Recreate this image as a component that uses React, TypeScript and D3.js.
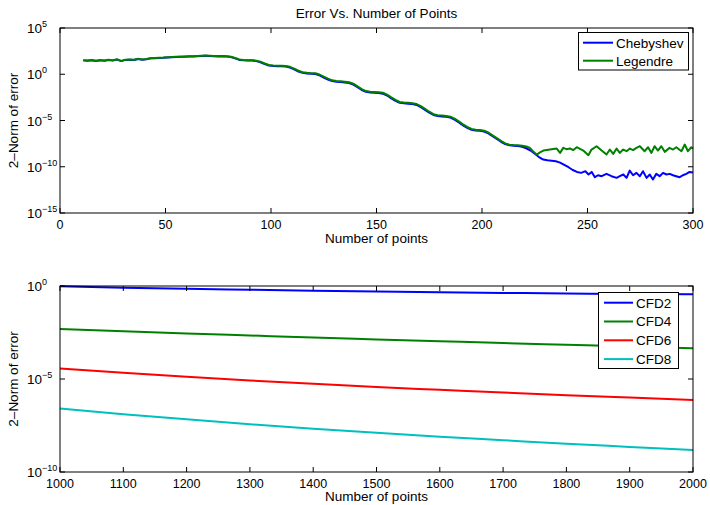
import React from "react";
import * as d3 from "d3";

// ---- Top plot data: [number of points, log10(2-norm of error)] ----
const chebyshevLog10: [number, number][] = [
  [11,1.50],[13,1.46],[15,1.52],[17,1.44],[19,1.50],[21,1.47],[23,1.53],[25,1.49],[27,1.58],[29,1.42],
  [31,1.55],[33,1.58],[35,1.54],[37,1.64],[39,1.58],[41,1.62],[43,1.72],[45,1.74],[47,1.76],[49,1.78],
  [51,1.82],[53,1.84],[55,1.86],[57,1.88],[59,1.90],[61,1.92],[63,1.93],[65,1.95],[67,1.96],[69,1.99],
  [71,1.97],[73,1.95],[75,1.93],[77,1.94],[79,1.92],[81,1.86],[83,1.72],[85,1.55],[87,1.50],[89,1.48],
  [91,1.48],[93,1.42],[95,1.30],[97,1.10],[99,0.94],[101,0.88],[103,0.86],[105,0.86],[107,0.84],[109,0.72],
  [111,0.52],[113,0.30],[115,0.15],[117,0.08],[119,0.05],[121,0.02],[123,-0.12],[125,-0.35],[127,-0.58],[129,-0.74],
  [131,-0.80],[133,-0.84],[135,-0.88],[137,-0.95],[139,-1.12],[141,-1.40],[143,-1.70],[145,-1.90],[147,-1.97],[149,-2.00],
  [151,-2.03],[153,-2.10],[155,-2.30],[157,-2.60],[159,-2.88],[161,-3.08],[163,-3.14],[165,-3.18],[167,-3.22],[169,-3.32],
  [171,-3.55],[173,-3.85],[175,-4.15],[177,-4.40],[179,-4.52],[181,-4.56],[183,-4.60],[185,-4.68],[187,-4.90],[189,-5.20],
  [191,-5.52],[193,-5.80],[195,-6.00],[197,-6.08],[199,-6.12],[201,-6.20],[203,-6.40],[205,-6.70],[207,-7.00],[209,-7.30],
  [211,-7.55],[213,-7.68],[215,-7.72],[217,-7.76],[219,-7.85],[221,-8.00],[223,-8.25],[225,-8.60],[227,-8.95],[229,-9.22],
  [231,-9.30],[233,-9.35],[235,-9.40],[237,-9.55],[239,-9.80],[241,-10.05],[243,-10.35],[245,-10.56],[247,-10.66],[249,-10.48],
  [250.5,-10.84],[252,-10.56],[253.5,-11.13],[255,-10.92],[256.7,-11.02],[259,-10.77],[261.4,-11.02],[263.8,-11.20],[265.3,-11.02],[267,-10.84],
  [268.5,-11.20],[270,-10.41],[271.6,-10.92],[273.2,-10.66],[274.8,-11.02],[276.3,-10.48],[278,-11.20],[279.5,-10.84],[281,-11.38],[282.6,-10.77],
  [284.2,-11.02],[285.8,-10.66],[287.4,-10.84],[289,-10.77],[290.5,-10.92],[292,-11.02],[293.7,-11.13],[295.2,-10.92],[296.8,-10.77],[298.4,-10.56],
  [300,-10.62],
];

const legendreLog10: [number, number][] = [
  [11,1.52],[13,1.48],[15,1.55],[17,1.46],[19,1.53],[21,1.49],[23,1.56],[25,1.51],[27,1.62],[29,1.44],
  [31,1.58],[33,1.60],[35,1.56],[37,1.67],[39,1.60],[41,1.64],[43,1.74],[45,1.76],[47,1.78],[49,1.80],
  [51,1.84],[53,1.86],[55,1.88],[57,1.90],[59,1.92],[61,1.94],[63,1.95],[65,1.97],[67,1.99],[69,2.02],
  [71,1.99],[73,1.97],[75,1.96],[77,1.97],[79,1.95],[81,1.90],[83,1.76],[85,1.60],[87,1.54],[89,1.52],
  [91,1.52],[93,1.47],[95,1.36],[97,1.16],[99,1.00],[101,0.94],[103,0.92],[105,0.93],[107,0.90],[109,0.80],
  [111,0.60],[113,0.38],[115,0.22],[117,0.15],[119,0.12],[121,0.10],[123,-0.03],[125,-0.25],[127,-0.48],[129,-0.66],
  [131,-0.72],[133,-0.75],[135,-0.80],[137,-0.86],[139,-1.02],[141,-1.30],[143,-1.60],[145,-1.82],[147,-1.89],[149,-1.92],
  [151,-1.94],[153,-2.00],[155,-2.20],[157,-2.50],[159,-2.78],[161,-3.00],[163,-3.06],[165,-3.09],[167,-3.13],[169,-3.22],
  [171,-3.45],[173,-3.75],[175,-4.05],[177,-4.32],[179,-4.44],[181,-4.47],[183,-4.51],[185,-4.59],[187,-4.80],[189,-5.10],
  [191,-5.42],[193,-5.70],[195,-5.92],[197,-6.00],[199,-6.03],[201,-6.10],[203,-6.30],[205,-6.60],[207,-6.90],[209,-7.20],
  [211,-7.47],[213,-7.62],[215,-7.66],[217,-7.68],[219,-7.72],[221,-7.80],[222.7,-7.96],[224,-8.30],[225.9,-8.68],[227.5,-8.45],
  [229.1,-8.25],[232.2,-8.14],[235.4,-8.03],[237,-8.50],[238.5,-7.96],[240,-8.10],[241.7,-8.03],[243.3,-8.20],[244.9,-7.89],[248,-8.25],
  [250.4,-8.75],[251.9,-8.14],[254.3,-7.78],[256.7,-8.25],[259,-8.68],[260.6,-8.14],[262.2,-8.61],[263.8,-8.03],[265.3,-8.50],[266.9,-8.14],
  [268.5,-8.32],[270.1,-8.03],[271.6,-8.20],[273.2,-7.96],[274.8,-7.78],[277.1,-8.32],[278.7,-7.89],[280.3,-8.50],[281.8,-7.78],[283.4,-8.25],
  [285,-7.78],[286.6,-8.39],[288.9,-7.96],[290.5,-8.14],[292.1,-7.89],[294.5,-8.32],[296.1,-7.60],[297.6,-8.32],[299.2,-7.89],[300,-8.05],
];

// ---- Bottom plot data ----
const cfdPoints = [1000, 1100, 1200, 1300, 1400, 1500, 1600, 1700, 1800, 1900, 2000];
const cfd2Log10 = [-0.02, -0.09, -0.15, -0.20, -0.25, -0.30, -0.34, -0.37, -0.40, -0.43, -0.45];
const cfd4Log10 = [-2.31, -2.43, -2.55, -2.66, -2.77, -2.87, -2.97, -3.07, -3.16, -3.25, -3.35];
const cfd6Log10 = [-4.44, -4.67, -4.88, -5.08, -5.26, -5.43, -5.58, -5.73, -5.87, -6.00, -6.13];
const cfd8Log10 = [-6.58, -6.89, -7.17, -7.43, -7.67, -7.89, -8.10, -8.29, -8.48, -8.65, -8.82];

const topXTicks = [0, 50, 100, 150, 200, 250, 300];
const topYExps = [5, 0, -5, -10, -15];
const botXTicks = [1000, 1100, 1200, 1300, 1400, 1500, 1600, 1700, 1800, 1900, 2000];
const botYExps = [0, -5, -10];

const topSeries = [
  { name: "Chebyshev", color: "#0000ff", data: chebyshevLog10 },
  { name: "Legendre", color: "#008000", data: legendreLog10 },
];
const botSeries = [
  { name: "CFD2", color: "#0000ff", vals: cfd2Log10 },
  { name: "CFD4", color: "#008000", vals: cfd4Log10 },
  { name: "CFD6", color: "#ff0000", vals: cfd6Log10 },
  { name: "CFD8", color: "#00bfbf", vals: cfd8Log10 },
];

const FONT = "'Liberation Sans', Arial, Helvetica, sans-serif";
const W = 710, H = 505;
const L = 60, R = 693;
const topT = 28, topB = 213;
const botT = 286, botB = 472;
const TICK = 5;

function fmtExp(e: number) {
  return e < 0 ? "\u2212" + Math.abs(e) : String(e);
}

function Axes({ x, y, xTicks, yExps, top, bottom }: any) {
  return (
    <g>
      <rect x={L} y={top} width={R - L} height={bottom - top} fill="none" stroke="#000" strokeWidth={1} />
      {xTicks.map((t: number) => (
        <g key={"x" + t}>
          <line x1={x(t)} x2={x(t)} y1={bottom} y2={bottom - TICK} stroke="#000" />
          <line x1={x(t)} x2={x(t)} y1={top} y2={top + TICK} stroke="#000" />
          <text x={x(t)} y={bottom + 15.5} textAnchor="middle" fontSize={12.5} fontFamily={FONT}>{t}</text>
        </g>
      ))}
      {yExps.map((e: number) => {
        const yy = y(Math.pow(10, e));
        return (
          <g key={"y" + e}>
            <line x1={L} x2={L + TICK} y1={yy} y2={yy} stroke="#000" />
            <line x1={R} x2={R - TICK} y1={yy} y2={yy} stroke="#000" />
            <text x={27} y={yy + 5} fontSize={13.5} fontFamily={FONT}>10</text>
            <text x={42} y={yy - 1} fontSize={9} fontFamily={FONT}>{fmtExp(e)}</text>
          </g>
        );
      })}
    </g>
  );
}

export default function App() {
  const xTop = d3.scaleLinear().domain([0, 300]).range([L, R]);
  const yTop = d3.scaleLog().domain([1e-15, 1e5]).range([topB, topT]);
  const xBot = d3.scaleLinear().domain([1000, 2000]).range([L, R]);
  const yBot = d3.scaleLog().domain([1e-10, 1]).range([botB, botT]);

  const topLine = d3
    .line<[number, number]>()
    .x((d) => xTop(d[0]))
    .y((d) => yTop(Math.pow(10, d[1])));

  const botLine = d3
    .line<[number, number]>()
    .curve(d3.curveMonotoneX)
    .x((d) => xBot(d[0]))
    .y((d) => yBot(Math.pow(10, d[1])));

  const cx = (L + R) / 2;

  return (
    <svg width={W} height={H} style={{ position: "absolute", left: 0, top: 0, background: "#fff" }}>
      <rect x={0} y={0} width={W} height={H} fill="#fff" />
      {/* Top plot */}
      <text x={cx} y={18} textAnchor="middle" fontSize={13.5} fontFamily={FONT}>Error Vs. Number of Points</text>
      {topSeries.map((s) => (
        <path key={s.name} d={topLine(s.data) || ""} fill="none" stroke={s.color} strokeWidth={2} strokeLinejoin="round" />
      ))}
      <Axes x={xTop} y={yTop} xTicks={topXTicks} yExps={topYExps} top={topT} bottom={topB} />
      <text x={cx} y={243} textAnchor="middle" fontSize={13.5} fontFamily={FONT}>Number of points</text>
      <text transform={`translate(18,${(topT + topB) / 2}) rotate(-90)`} textAnchor="middle" fontSize={13.5} fontFamily={FONT}>2–Norm of error</text>
      <g>
        <rect x={578.5} y={32.5} width={110} height={37.5} fill="#fff" stroke="#000" strokeWidth={1} />
        {topSeries.map((s, i) => (
          <g key={s.name}>
            <line x1={583} x2={613} y1={42.7 + i * 18} y2={42.7 + i * 18} stroke={s.color} strokeWidth={2} />
            <text x={616} y={47.5 + i * 18} fontSize={13.5} fontFamily={FONT}>{s.name}</text>
          </g>
        ))}
      </g>

      {/* Bottom plot */}
      {botSeries.map((s) => (
        <path
          key={s.name}
          d={botLine(cfdPoints.map((n, i) => [n, s.vals[i]] as [number, number])) || ""}
          fill="none"
          stroke={s.color}
          strokeWidth={2}
        />
      ))}
      <Axes x={xBot} y={yBot} xTicks={botXTicks} yExps={botYExps} top={botT} bottom={botB} />
      <text x={cx} y={501} textAnchor="middle" fontSize={13.5} fontFamily={FONT}>Number of points</text>
      <text transform={`translate(18,${(botT + botB) / 2}) rotate(-90)`} textAnchor="middle" fontSize={13.5} fontFamily={FONT}>2–Norm of error</text>
      <g>
        <rect x={598.5} y={292.5} width={80} height={76} fill="#fff" stroke="#000" strokeWidth={1} />
        {botSeries.map((s, i) => (
          <g key={s.name}>
            <line x1={604} x2={633} y1={302.7 + i * 18.8} y2={302.7 + i * 18.8} stroke={s.color} strokeWidth={2} />
            <text x={636} y={307.5 + i * 18.8} fontSize={13.5} fontFamily={FONT}>{s.name}</text>
          </g>
        ))}
      </g>
    </svg>
  );
}
